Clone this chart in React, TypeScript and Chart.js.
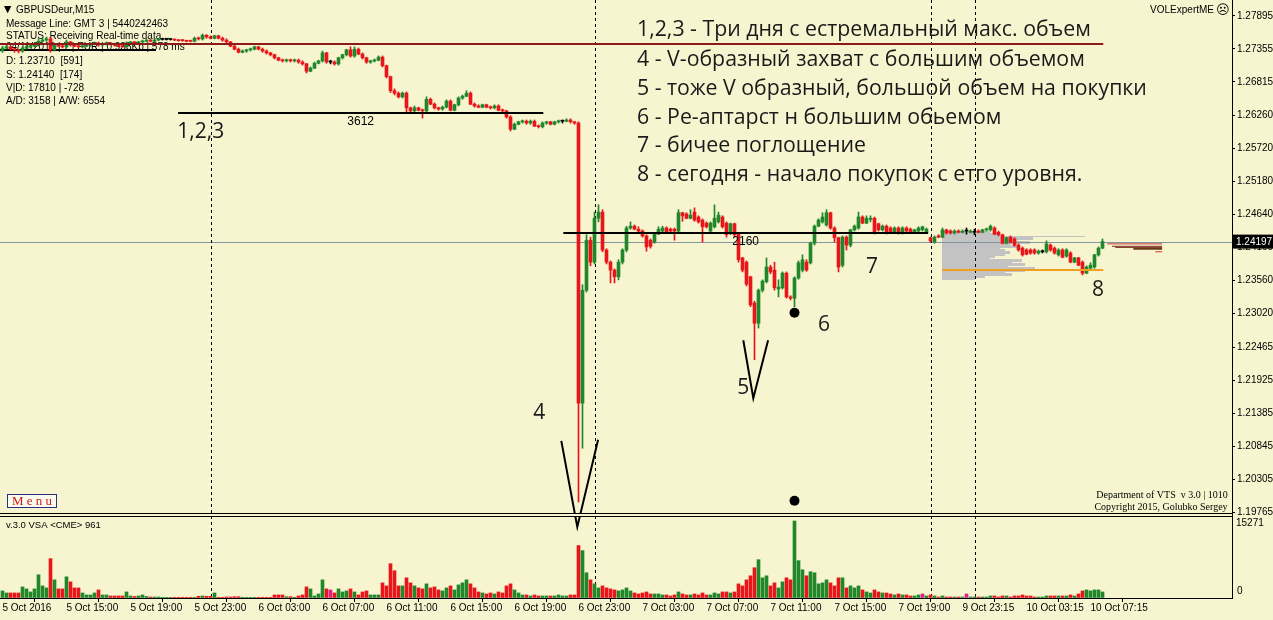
import React, { useEffect, useRef } from 'react';
import { Chart, registerables } from 'chart.js';

Chart.register(...registerables);

// ---------- axis data ----------
const timeLabels = ['5 Oct 2016', '5 Oct 15:00', '5 Oct 19:00', '5 Oct 23:00', '6 Oct 03:00', '6 Oct 07:00', '6 Oct 11:00', '6 Oct 15:00', '6 Oct 19:00', '6 Oct 23:00', '7 Oct 03:00', '7 Oct 07:00', '7 Oct 11:00', '7 Oct 15:00', '7 Oct 19:00', '9 Oct 23:15', '10 Oct 03:15', '10 Oct 07:15'];
const barsPerTimeLabel = 16;
const priceTicks = [1.27895, 1.27355, 1.26815, 1.2626, 1.2572, 1.2518, 1.2464, 1.241, 1.2356, 1.2302, 1.22465, 1.21925, 1.21385, 1.20845, 1.20305, 1.19765];
const priceMin = 1.19716;
const priceMax = 1.28157;
const barMin = -0.625;
const barMax = 307.375;
const volumeMax = 16461;
const volumeTicks = [15271, 0];
const currentPrice = 1.24197;

// ---------- candles [open, high, low, close] ----------
const candlesOct5 = [
  [1.2732, 1.2740, 1.2730, 1.2737], [1.2737, 1.2742, 1.2735, 1.2739], [1.2739, 1.2740, 1.2734, 1.2735], [1.2735, 1.2737, 1.2730, 1.2734],
  [1.2734, 1.2735, 1.2729, 1.2732], [1.2732, 1.2739, 1.2730, 1.2737], [1.2737, 1.2742, 1.2735, 1.2739], [1.2739, 1.2744, 1.2737, 1.2740],
  [1.2740, 1.2745, 1.2739, 1.2742], [1.2742, 1.2752, 1.2740, 1.2748], [1.2748, 1.2753, 1.2747, 1.2750], [1.2750, 1.2755, 1.2748, 1.2752],
  [1.2752, 1.2755, 1.2730, 1.2734], [1.2734, 1.2744, 1.2732, 1.2742], [1.2742, 1.2745, 1.2739, 1.2740], [1.2740, 1.2742, 1.2737, 1.2739],
  [1.2739, 1.2750, 1.2737, 1.2747], [1.2747, 1.2748, 1.2740, 1.2742], [1.2742, 1.2744, 1.2739, 1.2740], [1.2740, 1.2742, 1.2737, 1.2739],
  [1.2739, 1.2742, 1.2737, 1.2740], [1.2740, 1.2744, 1.2739, 1.2742], [1.2742, 1.2745, 1.2740, 1.2744], [1.2744, 1.2747, 1.2742, 1.2745],
  [1.2745, 1.2747, 1.2740, 1.2742], [1.2742, 1.2745, 1.2740, 1.2744], [1.2744, 1.2747, 1.2742, 1.2745], [1.2745, 1.2746, 1.2742, 1.2744],
  [1.2744, 1.2745, 1.2740, 1.2742], [1.2742, 1.2744, 1.2739, 1.2740], [1.2740, 1.2742, 1.2738, 1.2739], [1.2739, 1.2747, 1.2738, 1.2745],
  [1.2745, 1.2748, 1.2744, 1.2747], [1.2747, 1.2748, 1.2744, 1.2745], [1.2745, 1.2748, 1.2744, 1.2747], [1.2747, 1.2750, 1.2745, 1.2748],
  [1.2748, 1.2751, 1.2747, 1.2750], [1.2750, 1.2751, 1.2747, 1.2748], [1.2748, 1.2752, 1.2747, 1.2750], [1.2750, 1.2752, 1.2749, 1.2751],
  [1.2751, 1.2752, 1.2750, 1.2751], [1.2751, 1.2752, 1.2750, 1.2751], [1.2751, 1.2752, 1.2750, 1.2751], [1.2751, 1.2752, 1.2749, 1.2750],
  [1.2750, 1.2751, 1.2748, 1.2749], [1.2750, 1.2751, 1.2748, 1.2749], [1.2749, 1.2750, 1.2747, 1.2748], [1.2749, 1.2750, 1.2747, 1.2748],
  [1.2748, 1.2755, 1.2747, 1.2753], [1.2753, 1.2755, 1.2750, 1.2752], [1.2752, 1.2760, 1.2750, 1.2758], [1.2758, 1.2759, 1.2753, 1.2755],
];
const candlesOct6 = [
  [1.2755, 1.2757, 1.2752, 1.2753], [1.2753, 1.2758, 1.2752, 1.2757], [1.2757, 1.2758, 1.2752, 1.2753], [1.2753, 1.2755, 1.2748, 1.2750],
  [1.2750, 1.2752, 1.2745, 1.2747], [1.2747, 1.2748, 1.2739, 1.2740], [1.2740, 1.2742, 1.2734, 1.2735], [1.2735, 1.2737, 1.2729, 1.2730],
  [1.2730, 1.2734, 1.2729, 1.2732], [1.2732, 1.2735, 1.2730, 1.2734], [1.2734, 1.2737, 1.2732, 1.2735], [1.2735, 1.2740, 1.2734, 1.2739],
  [1.2739, 1.2740, 1.2734, 1.2735], [1.2735, 1.2737, 1.2730, 1.2732], [1.2732, 1.2734, 1.2727, 1.2729], [1.2729, 1.2730, 1.2724, 1.2726],
  [1.2726, 1.2727, 1.2719, 1.2721], [1.2721, 1.2722, 1.2716, 1.2717], [1.2717, 1.2719, 1.2714, 1.2716], [1.2716, 1.2719, 1.2714, 1.2717],
  [1.2717, 1.2719, 1.2714, 1.2716], [1.2716, 1.2719, 1.2714, 1.2717], [1.2717, 1.2719, 1.2712, 1.2714], [1.2714, 1.2716, 1.2709, 1.2711],
  [1.2711, 1.2712, 1.2696, 1.2699], [1.2699, 1.2706, 1.2698, 1.2704], [1.2704, 1.2714, 1.2703, 1.2712], [1.2712, 1.2717, 1.2711, 1.2716],
  [1.2716, 1.2732, 1.2714, 1.2729], [1.2729, 1.2730, 1.2712, 1.2714], [1.2714, 1.2717, 1.2711, 1.2714], [1.2714, 1.2716, 1.2709, 1.2711],
  [1.2711, 1.2722, 1.2709, 1.2721], [1.2721, 1.2727, 1.2719, 1.2726], [1.2726, 1.2735, 1.2724, 1.2734], [1.2734, 1.2739, 1.2722, 1.2724],
  [1.2724, 1.2739, 1.2722, 1.2735], [1.2735, 1.2737, 1.2726, 1.2727], [1.2727, 1.2729, 1.2719, 1.2721], [1.2721, 1.2722, 1.2712, 1.2714],
  [1.2714, 1.2717, 1.2712, 1.2716], [1.2716, 1.2719, 1.2714, 1.2717], [1.2717, 1.2724, 1.2716, 1.2722], [1.2722, 1.2724, 1.2706, 1.2708],
  [1.2708, 1.2709, 1.2688, 1.2690], [1.2690, 1.2691, 1.2664, 1.2667], [1.2667, 1.2670, 1.2660, 1.2663], [1.2663, 1.2665, 1.2655, 1.2657],
  [1.2657, 1.2665, 1.2655, 1.2663], [1.2663, 1.2665, 1.2632, 1.2639], [1.2639, 1.2640, 1.2632, 1.2634], [1.2634, 1.2642, 1.2632, 1.2639],
  [1.2639, 1.2640, 1.2634, 1.2635], [1.2635, 1.2637, 1.2622, 1.2634], [1.2634, 1.2657, 1.2632, 1.2653], [1.2653, 1.2655, 1.2644, 1.2645],
  [1.2645, 1.2647, 1.2637, 1.2639], [1.2639, 1.2640, 1.2635, 1.2637], [1.2637, 1.2642, 1.2635, 1.2640], [1.2640, 1.2652, 1.2639, 1.2650],
  [1.2650, 1.2652, 1.2634, 1.2635], [1.2635, 1.2645, 1.2634, 1.2644], [1.2644, 1.2657, 1.2642, 1.2655], [1.2655, 1.2660, 1.2653, 1.2658],
  [1.2658, 1.2667, 1.2657, 1.2663], [1.2663, 1.2665, 1.2644, 1.2645], [1.2645, 1.2647, 1.2640, 1.2642], [1.2642, 1.2644, 1.2639, 1.2640],
  [1.2640, 1.2645, 1.2639, 1.2644], [1.2644, 1.2645, 1.2639, 1.2640], [1.2640, 1.2642, 1.2637, 1.2639], [1.2639, 1.2644, 1.2637, 1.2642],
  [1.2642, 1.2644, 1.2634, 1.2635], [1.2635, 1.2637, 1.2632, 1.2634], [1.2634, 1.2635, 1.2622, 1.2624], [1.2624, 1.2626, 1.2601, 1.2604],
  [1.2604, 1.2614, 1.2603, 1.2612], [1.2612, 1.2617, 1.2611, 1.2616], [1.2616, 1.2619, 1.2614, 1.2617], [1.2617, 1.2619, 1.2612, 1.2614],
  [1.2614, 1.2619, 1.2612, 1.2617], [1.2617, 1.2619, 1.2608, 1.2609], [1.2609, 1.2611, 1.2606, 1.2608], [1.2608, 1.2616, 1.2606, 1.2614],
  [1.2614, 1.2617, 1.2612, 1.2616], [1.2616, 1.2617, 1.2611, 1.2612], [1.2612, 1.2617, 1.2611, 1.2616], [1.2616, 1.2619, 1.2614, 1.2617],
  [1.2617, 1.2619, 1.2614, 1.2617], [1.2617, 1.2621, 1.2616, 1.2619], [1.2619, 1.2621, 1.2614, 1.2616], [1.2616, 1.2617, 1.2612, 1.2614],
  [1.2614, 1.2616, 1.1993, 1.2155], [1.2155, 1.2349, 1.2081, 1.2340], [1.2340, 1.2431, 1.2337, 1.2422], [1.2422, 1.2427, 1.2380, 1.2386],
];
const candlesOct7 = [
  [1.2386, 1.2468, 1.2383, 1.2458], [1.2458, 1.2480, 1.2452, 1.2468], [1.2468, 1.2472, 1.2403, 1.2406], [1.2406, 1.2408, 1.2383, 1.2386],
  [1.2386, 1.2388, 1.2352, 1.2373], [1.2373, 1.2375, 1.2352, 1.2362], [1.2362, 1.2390, 1.2357, 1.2386], [1.2386, 1.2408, 1.2383, 1.2406],
  [1.2406, 1.2445, 1.2403, 1.2442], [1.2442, 1.2452, 1.2440, 1.2445], [1.2445, 1.2447, 1.2439, 1.2440], [1.2440, 1.2444, 1.2435, 1.2437],
  [1.2437, 1.2439, 1.2427, 1.2429], [1.2429, 1.2431, 1.2404, 1.2411], [1.2422, 1.2424, 1.2409, 1.2412], [1.2419, 1.2434, 1.2417, 1.2432],
  [1.2432, 1.2444, 1.2431, 1.2440], [1.2437, 1.2445, 1.2435, 1.2442], [1.2442, 1.2444, 1.2434, 1.2435], [1.2440, 1.2442, 1.2435, 1.2437],
  [1.2440, 1.2442, 1.2422, 1.2437], [1.2437, 1.2472, 1.2435, 1.2467], [1.2467, 1.2468, 1.2453, 1.2462], [1.2465, 1.2467, 1.2457, 1.2458],
  [1.2458, 1.2472, 1.2457, 1.2463], [1.2468, 1.2475, 1.2453, 1.2455], [1.2460, 1.2462, 1.2450, 1.2452], [1.2455, 1.2457, 1.2419, 1.2444],
  [1.2450, 1.2452, 1.2442, 1.2444], [1.2437, 1.2452, 1.2435, 1.2450], [1.2444, 1.2480, 1.2442, 1.2458], [1.2452, 1.2468, 1.2450, 1.2463],
  [1.2460, 1.2462, 1.2442, 1.2444], [1.2450, 1.2452, 1.2427, 1.2431], [1.2434, 1.2450, 1.2431, 1.2449], [1.2449, 1.2450, 1.2427, 1.2431],
  [1.2434, 1.2435, 1.2386, 1.2390], [1.2393, 1.2394, 1.2370, 1.2373], [1.2386, 1.2388, 1.2347, 1.2350], [1.2362, 1.2363, 1.2313, 1.2316],
  [1.2319, 1.2322, 1.2226, 1.2286], [1.2286, 1.2342, 1.2278, 1.2340], [1.2340, 1.2357, 1.2337, 1.2355], [1.2354, 1.2393, 1.2352, 1.2378],
  [1.2378, 1.2381, 1.2367, 1.2370], [1.2373, 1.2386, 1.2340, 1.2344], [1.2342, 1.2357, 1.2329, 1.2345], [1.2344, 1.2370, 1.2342, 1.2368],
  [1.2368, 1.2370, 1.2327, 1.2329], [1.2329, 1.2331, 1.2324, 1.2327], [1.2327, 1.2362, 1.2313, 1.2360], [1.2360, 1.2388, 1.2358, 1.2385],
  [1.2373, 1.2398, 1.2370, 1.2390], [1.2386, 1.2390, 1.2371, 1.2373], [1.2385, 1.2419, 1.2383, 1.2417], [1.2417, 1.2447, 1.2414, 1.2445],
  [1.2445, 1.2457, 1.2444, 1.2455], [1.2452, 1.2467, 1.2450, 1.2460], [1.2447, 1.2472, 1.2445, 1.2467], [1.2467, 1.2468, 1.2440, 1.2442],
  [1.2442, 1.2444, 1.2419, 1.2426], [1.2426, 1.2427, 1.2370, 1.2378], [1.2381, 1.2429, 1.2378, 1.2427], [1.2427, 1.2429, 1.2406, 1.2414],
  [1.2414, 1.2440, 1.2411, 1.2439], [1.2439, 1.2447, 1.2437, 1.2445], [1.2442, 1.2468, 1.2440, 1.2460], [1.2460, 1.2462, 1.2449, 1.2450],
  [1.2450, 1.2462, 1.2449, 1.2458], [1.2456, 1.2462, 1.2452, 1.2458], [1.2458, 1.2460, 1.2432, 1.2434], [1.2449, 1.2450, 1.2437, 1.2439],
  [1.2439, 1.2447, 1.2437, 1.2445], [1.2445, 1.2447, 1.2432, 1.2435], [1.2442, 1.2444, 1.2434, 1.2435], [1.2435, 1.2444, 1.2434, 1.2442],
  [1.2442, 1.2444, 1.2432, 1.2434], [1.2434, 1.2444, 1.2432, 1.2442], [1.2442, 1.2444, 1.2435, 1.2437], [1.2440, 1.2442, 1.2434, 1.2435],
  [1.2435, 1.2440, 1.2434, 1.2439], [1.2437, 1.2444, 1.2435, 1.2442], [1.2439, 1.2445, 1.2437, 1.2444], [1.2435, 1.2442, 1.2434, 1.2440],
];
const candlesOct9 = [
  [1.2426, 1.2427, 1.2419, 1.2421], [1.2419, 1.2429, 1.2417, 1.2427], [1.2429, 1.2431, 1.2426, 1.2427], [1.2427, 1.2442, 1.2426, 1.2439],
  [1.2439, 1.2440, 1.2432, 1.2434], [1.2437, 1.2439, 1.2432, 1.2434], [1.2434, 1.2439, 1.2432, 1.2437], [1.2437, 1.2439, 1.2434, 1.2435],
  [1.2435, 1.2439, 1.2434, 1.2437], [1.2437, 1.2442, 1.2432, 1.2437], [1.2435, 1.2439, 1.2434, 1.2437],
];
const candlesOct10 = [
  [1.2435, 1.2440, 1.2431, 1.2435], [1.2437, 1.2439, 1.2434, 1.2435], [1.2435, 1.2440, 1.2434, 1.2439], [1.2439, 1.2442, 1.2437, 1.2440],
  [1.2439, 1.2447, 1.2437, 1.2445], [1.2442, 1.2444, 1.2431, 1.2432], [1.2435, 1.2437, 1.2429, 1.2431], [1.2431, 1.2432, 1.2416, 1.2417],
  [1.2417, 1.2427, 1.2416, 1.2426], [1.2427, 1.2429, 1.2417, 1.2419], [1.2424, 1.2426, 1.2412, 1.2414], [1.2414, 1.2416, 1.2404, 1.2406],
  [1.2409, 1.2411, 1.2396, 1.2398], [1.2406, 1.2408, 1.2398, 1.2399], [1.2406, 1.2408, 1.2399, 1.2401], [1.2406, 1.2408, 1.2399, 1.2401],
  [1.2401, 1.2406, 1.2399, 1.2404], [1.2403, 1.2406, 1.2401, 1.2403], [1.2403, 1.2421, 1.2401, 1.2416], [1.2414, 1.2416, 1.2404, 1.2406],
  [1.2409, 1.2411, 1.2399, 1.2401], [1.2398, 1.2408, 1.2396, 1.2406], [1.2406, 1.2408, 1.2393, 1.2394], [1.2396, 1.2408, 1.2394, 1.2406],
  [1.2401, 1.2403, 1.2385, 1.2386], [1.2386, 1.2394, 1.2385, 1.2393], [1.2393, 1.2394, 1.2380, 1.2381], [1.2386, 1.2388, 1.2365, 1.2368],
  [1.2368, 1.2380, 1.2367, 1.2378], [1.2376, 1.2385, 1.2375, 1.2381], [1.2378, 1.2399, 1.2376, 1.2398], [1.2398, 1.2411, 1.2396, 1.2409],
  [1.2409, 1.2424, 1.2408, 1.24197],
];

// ---------- tick volume per bar ----------
const volumeOct5 = [1400, 1000, 1000, 1000, 1000, 2200, 1800, 1200, 1800, 4600, 2400, 2000, 7800, 3600, 1800, 1800, 4200, 3200, 2000, 2000, 1000, 600, 600, 1000, 1600, 600, 600, 400, 400, 400, 400, 1200, 400, 300, 400, 600, 300, 200, 200, 200, 60, 60, 60, 140, 140, 140, 140, 140, 140, 340, 400, 340];
const volumeOct6 = [340, 1000, 140, 140, 200, 200, 260, 260, 140, 140, 140, 140, 140, 140, 140, 140, 600, 600, 600, 260, 260, 140, 400, 600, 2200, 1800, 400, 800, 3600, 1800, 1600, 1000, 1800, 1200, 1400, 1800, 1200, 600, 1200, 1400, 600, 600, 600, 3000, 2400, 6800, 5400, 2400,
  2400, 4000, 3000, 2400, 2000, 1800, 2800, 2000, 2200, 1600, 1400, 2000, 2400, 1600, 2600, 3000, 3600, 2800, 2000, 1200, 1000, 800, 1000, 800, 1200, 1000, 2400, 2800, 1600, 1000, 600, 600, 400, 600, 400, 400, 400, 400, 400, 600, 400, 400, 600, 600, 10400, 9400, 5000, 3600];
const volumeOct7 = [2800, 2000, 2400, 2000, 1800, 1600, 1400, 1600, 2000, 1400, 1000, 800, 1000, 1200, 800, 800, 800, 600, 600, 400, 600, 1200, 800, 600, 600, 800, 600, 1000, 600, 600, 1000, 800, 1200, 1200, 1000, 1200, 2800, 2400, 3600, 4400,
  6000, 7600, 4000, 4400, 2400, 3000, 2000, 3200, 4000, 3600, 15271, 7400, 5600, 4400, 5200, 5000, 2800, 3000, 3600, 3000, 2400, 4000, 4000, 2000, 2400, 2000, 2400, 1600, 1200, 1000, 1600, 1200, 1000, 1000, 800, 600, 800, 600, 600, 400, 400, 600, 800, 400];
const volumeOct9 = [600, 400, 200, 400, 200, 200, 200, 200, 200, 800, 200];
const volumeOct10 = [200, 200, 200, 200, 400, 400, 200, 400, 400, 200, 400, 400, 600, 400, 400, 200, 200, 200, 400, 400, 400, 400, 400, 400, 600, 400, 800, 1400, 1600, 1400, 1600, 1600, 1200];
const climaxVolumeBars = [82, 230, 241];
const daySeparatorBars = [52, 148, 232, 243];

// ---------- drawn levels & annotations (bar index, price) ----------
const weeklyHighLine = { price: 1.27436, from: -0.7, to: 275.2 };
const volumeLevels = [
  { label: '3612', price: 1.26305, from: 43.9, to: 135.2 },
  { label: '2160', price: 1.24338, from: 140.2, to: 231.4 },
];
const buyLevel = { price: 1.2373, from: 234.9, to: 275.2 };
const vPatterns = [
  [[139.7, 1.2093], [143.7, 1.1952], [148.9, 1.2095]],
  [[185.2, 1.2258], [187.7, 1.2163], [191.4, 1.2258]],
];
const markerDots = [[198, 1.2303], [198, 1.1995]];
const patternLabels = [
  { text: '1,2,3', bar: 43.7, price: 1.2599 },
  { text: '4', bar: 132.7, price: 1.2139 },
  { text: '5', bar: 183.7, price: 1.2180 },
  { text: '6', bar: 203.9, price: 1.2283 },
  { text: '7', bar: 215.9, price: 1.2378 },
  { text: '8', bar: 272.4, price: 1.2340 },
];
const profilePrices = [1.2435, 1.2432, 1.2429, 1.2426, 1.2422, 1.2419, 1.2416, 1.2412, 1.2409, 1.2406, 1.2403, 1.2399, 1.2396, 1.2393, 1.2390, 1.2386, 1.2383, 1.2380, 1.2376, 1.2373, 1.2370, 1.2367, 1.2363, 1.2360];
const profileLengths = [12, 14.5, 35.8, 22.8, 17.5, 22, 17, 19.5, 14.5, 15.8, 17, 15.8, 13.3, 12, 20, 17.5, 20.8, 16.5, 23.3, 20.8, 15.8, 17.5, 10.8, 8.3];
const profileStartBar = 234.9;
const sideLevels = [
  { price: 1.2416, from: 276.2, to: 289.9, color: '#c23a32', width: 1 },
  { price: 1.2412, from: 277.4, to: 289.9, color: '#8b1e1e', width: 1 },
  { price: 1.2410, from: 278.2, to: 289.9, color: '#7a4a2a', width: 1 },
  { price: 1.2408, from: 282.7, to: 289.9, color: '#6b3a1a', width: 2 },
  { price: 1.2403, from: 288.2, to: 289.9, color: '#e03030', width: 1 },
];
const notes = [
  '1,2,3 - Три дня с естремальный макс. объем',
  '4 - V-образный захват с большим объемом',
  '5 - тоже V образный, большой объем на покупки',
  '6 - Ре-аптарст н большим обьемом',
  '7 - бичее поглощение',
  '8 - сегодня - начало покупок с етго уровня.',
];
const symbolTitle = 'GBPUSDeur,M15';
const headerLines = [
  'Message Line: GMT 3 | 5440242463',
  'STATUS: Receiving Real-time data...',
  '04/11/2016 | 7 | EUR | 0.933Kb | 578 ms',
  'D: 1.23710  [591]',
  'S: 1.24140  [174]',
  'V|D: 17810 | -728',
  'A/D: 3158 | A/W: 6554',
];
const volumeTitle = 'v.3.0 VSA <CME> 961';
const expertName = 'VOLExpertME';
const copyrightLines = ['Department of VTS  v 3.0 | 1010', 'Copyright 2015, Golubko Sergey'];

// ---------- styles ----------
const BG = '#f6f5d0';
const UP = '#21872a';
const DOWN = '#e8161b';
const DOJI = '#000000';
const CLIMAX = '#e0208c';
const SANS = '"Liberation Sans", Arial, sans-serif';
const SERIF = '"Liberation Serif", "Times New Roman", serif';
const NOTE_FONT = '"Open Sans", "DejaVu Sans", sans-serif';

const candles: number[][] = [...candlesOct5, ...candlesOct6, ...candlesOct7, ...candlesOct9, ...candlesOct10];
const volumes: number[] = [...volumeOct5, ...volumeOct6, ...volumeOct7, ...volumeOct9, ...volumeOct10];

const candleColor = (c: number[]) => (c[3] > c[0] ? UP : c[3] < c[0] ? DOWN : DOJI);

const overlayPlugin = {
  id: 'mtOverlay',
  beforeDraw(chart: any) {
    const { ctx, width, height } = chart;
    ctx.save();
    ctx.fillStyle = BG;
    ctx.fillRect(0, 0, width, height);
    ctx.restore();
  },
  beforeDatasetsDraw(chart: any) {
    const { ctx, chartArea } = chart;
    const xs = chart.scales.x;
    const ys = chart.scales.y;
    ctx.save();
    // header texts
    ctx.fillStyle = '#000';
    ctx.textBaseline = 'middle';
    ctx.font = `9.5px "DejaVu Sans", sans-serif`;
    ctx.fillText('▼', 4, 10);
    ctx.font = `10px ${SANS}`;
    ctx.fillText(symbolTitle, 16, 10);
    const headerY = [24, 36, 47, 61, 75, 88, 101];
    headerLines.forEach((t, k) => ctx.fillText(t, 6, headerY[k]));
    ctx.fillRect(0, 49, 156, 2);

    // volume profile
    ctx.fillStyle = '#c3c3c3';
    const x0 = xs.getPixelForValue(profileStartBar);
    profilePrices.forEach((p, k) => {
      const py = Math.round(ys.getPixelForValue(p));
      const x1 = Math.round(xs.getPixelForValue(profileStartBar + profileLengths[k]));
      if (k === 2) {
        ctx.fillRect(Math.round(x0), py, x1 - Math.round(x0), 1);
      } else {
        ctx.fillRect(Math.round(x0), py - 1, x1 - Math.round(x0), 3);
      }
    });

    // current price line
    const cy = Math.round(ys.getPixelForValue(currentPrice)) + 0.5;
    ctx.strokeStyle = '#8595a0';
    ctx.lineWidth = 1;
    ctx.beginPath();
    ctx.moveTo(chartArea.left, cy);
    ctx.lineTo(chartArea.right, cy);
    ctx.stroke();

    // day separators
    ctx.strokeStyle = '#000';
    ctx.setLineDash([3, 3]);
    daySeparatorBars.forEach((b) => {
      const px = Math.round(xs.getPixelForValue(b)) + 0.5;
      ctx.beginPath();
      ctx.moveTo(px, chartArea.top);
      ctx.lineTo(px, chartArea.bottom);
      ctx.stroke();
    });
    ctx.restore();
  },
  afterDatasetsDraw(chart: any) {
    const { ctx, chartArea } = chart;
    const xs = chart.scales.x;
    const ys = chart.scales.y;
    const yv = chart.scales.yv;
    ctx.save();

    // panel separation (double line)
    const pb = ys.bottom;
    ctx.fillStyle = BG;
    ctx.fillRect(chartArea.left, pb - 1, chartArea.right - chartArea.left, 2);
    ctx.strokeStyle = '#000';
    ctx.lineWidth = 1;
    ctx.beginPath();
    ctx.moveTo(chartArea.left, pb - 1.5);
    ctx.lineTo(chartArea.right, pb - 1.5);
    ctx.moveTo(chartArea.left, pb + 1.5);
    ctx.lineTo(chartArea.right, pb + 1.5);
    ctx.stroke();

    // level labels
    ctx.fillStyle = '#000';
    ctx.font = `12px ${SANS}`;
    ctx.textAlign = 'center';
    ctx.textBaseline = 'middle';
    volumeLevels.forEach((l) => {
      const mx = xs.getPixelForValue((l.from + l.to) / 2);
      ctx.fillText(l.label, mx, ys.getPixelForValue(l.price) + 9);
    });

    // pattern labels
    ctx.textAlign = 'left';
    ctx.fillStyle = '#1a1a1a';
    ctx.font = `21px ${NOTE_FONT}`;
    patternLabels.forEach((l) => ctx.fillText(l.text, xs.getPixelForValue(l.bar), ys.getPixelForValue(l.price)));

    // notes block
    ctx.font = `21.3px ${NOTE_FONT}`;
    const noteY = [30, 60, 89, 118, 146, 175];
    notes.forEach((t, k) => ctx.fillText(t, 637, noteY[k]));

    // top-right expert name
    ctx.fillStyle = '#000';
    ctx.font = `10px ${SANS}`;
    ctx.textAlign = 'right';
    ctx.fillText(expertName, 1214, 10);
    ctx.font = `13px "DejaVu Sans", sans-serif`;
    ctx.textAlign = 'left';
    ctx.fillText('☹', 1216, 11);

    // menu button
    ctx.fillStyle = '#fbfbf0';
    ctx.fillRect(7.5, 494.5, 49, 13);
    ctx.strokeStyle = '#2b2f7a';
    ctx.lineWidth = 1;
    ctx.strokeRect(7.5, 494.5, 49, 13);
    ctx.fillStyle = '#d01818';
    ctx.font = `13px ${SERIF}`;
    ctx.textAlign = 'center';
    ctx.fillText('M e n u', 32, 501.5);

    // copyright
    ctx.fillStyle = '#000';
    ctx.font = `10px ${SERIF}`;
    ctx.fillText(copyrightLines[0], 1162, 495);
    ctx.fillText(copyrightLines[1], 1161, 507);

    // volume panel title
    ctx.textAlign = 'left';
    ctx.font = `9.5px ${SANS}`;
    ctx.fillText(volumeTitle, 6, 525);

    // volume axis labels
    ctx.font = `10px ${SANS}`;
    ctx.fillText(String(volumeTicks[0]), 1236, yv.getPixelForValue(volumeTicks[0]) + 2);
    ctx.fillText(String(volumeTicks[1]), 1237, yv.getPixelForValue(volumeTicks[1]) - 7);

    // current price box
    const py = ys.getPixelForValue(currentPrice);
    ctx.fillStyle = '#000';
    ctx.fillRect(1233, py - 7, 40, 14);
    ctx.fillStyle = '#fff';
    ctx.fillText(currentPrice.toFixed(5), 1236, py + 0.5);
    ctx.restore();
  },
};

const lineDs = (pts: number[][], color: string, width: number, extra: any = {}) => ({
  type: 'line',
  data: pts.map(([x, y]) => ({ x, y })),
  borderColor: color,
  backgroundColor: color,
  borderWidth: width,
  pointRadius: 0,
  tension: 0,
  xAxisID: 'x',
  yAxisID: 'y',
  order: 0,
  ...extra,
});

export default function App() {
  const ref = useRef<HTMLCanvasElement>(null);

  useEffect(() => {
    const canvas = ref.current;
    if (!canvas) return;
    const colors = candles.map(candleColor);
    const volColors = candles.map((c, i) => (climaxVolumeBars.includes(i) ? CLIMAX : c[3] >= c[0] ? UP : DOWN));

    const datasets: any[] = [
      {
        type: 'bar',
        data: candles.map((c, i) => ({ x: i, y: [c[2], c[1]] })),
        backgroundColor: colors,
        barThickness: 1,
        grouped: false,
        xAxisID: 'x',
        yAxisID: 'y',
        order: 3,
      },
      {
        type: 'bar',
        data: candles.map((c, i) => ({ x: i, y: [c[0], c[3]] })),
        backgroundColor: colors,
        barThickness: 3,
        minBarLength: 1,
        grouped: false,
        xAxisID: 'x',
        yAxisID: 'y',
        order: 2,
      },
      {
        type: 'bar',
        data: volumes.map((v, i) => ({ x: i, y: v })),
        backgroundColor: volColors,
        barThickness: 3,
        grouped: false,
        xAxisID: 'x',
        yAxisID: 'yv',
        order: 2,
      },
      lineDs([[weeklyHighLine.from, weeklyHighLine.price], [weeklyHighLine.to, weeklyHighLine.price]], '#8b1a1a', 2),
      ...volumeLevels.map((l) => lineDs([[l.from, l.price], [l.to, l.price]], '#000', 2)),
      lineDs([[buyLevel.from, buyLevel.price], [buyLevel.to, buyLevel.price]], '#f0a020', 2),
      ...sideLevels.map((l) => lineDs([[l.from, l.price], [l.to, l.price]], l.color, l.width)),
      ...vPatterns.map((v) => lineDs(v, '#000', 2, { clip: false })),
      lineDs(markerDots, '#000', 0, { showLine: false, pointRadius: 5, pointBackgroundColor: '#000', pointBorderWidth: 0, clip: false }),
    ];

    const chart = new Chart(canvas, {
      type: 'bar',
      data: { datasets },
      options: {
        animation: false,
        responsive: false,
        events: [],
        layout: { padding: 0, autoPadding: false },
        plugins: { legend: { display: false }, tooltip: { enabled: false } },
        scales: {
          x: {
            type: 'linear',
            position: 'bottom',
            min: barMin,
            max: barMax,
            offset: false,
            bounds: 'data',
            afterBuildTicks: (s: any) => {
              s.ticks = timeLabels.map((_, k) => ({ value: k * barsPerTimeLabel }));
            },
            afterFit: (s: any) => {
              s.height = 22;
              s.paddingLeft = 0;
              s.paddingRight = 0;
            },
            ticks: {
              autoSkip: false,
              maxRotation: 0,
              minRotation: 0,
              align: 'start',
              padding: 0,
              color: '#000',
              font: { family: SANS, size: 10 },
              callback: (v: any) => timeLabels[Math.round(Number(v) / barsPerTimeLabel)] ?? '',
            },
            grid: { drawOnChartArea: false, drawTicks: true, tickLength: 4, color: '#000' },
            border: { display: true, color: '#000' },
          },
          y: {
            type: 'linear',
            position: 'right',
            stack: 'panels',
            stackWeight: 515,
            min: priceMin,
            max: priceMax,
            bounds: 'data',
            afterBuildTicks: (s: any) => {
              s.ticks = priceTicks.map((v) => ({ value: v }));
            },
            afterFit: (s: any) => {
              s.width = 41;
              s.paddingTop = 0;
              s.paddingBottom = 0;
            },
            ticks: {
              autoSkip: false,
              padding: 2,
              color: '#000',
              font: { family: SANS, size: 10 },
              callback: (v: any) => Number(v).toFixed(5),
            },
            grid: { drawOnChartArea: false, drawTicks: true, tickLength: 3, color: '#000' },
            border: { display: true, color: '#000' },
          },
          yv: {
            type: 'linear',
            position: 'right',
            stack: 'panels',
            stackWeight: 83,
            min: 0,
            max: volumeMax,
            bounds: 'data',
            afterFit: (s: any) => {
              s.width = 41;
              s.paddingTop = 0;
              s.paddingBottom = 0;
            },
            ticks: { display: false },
            grid: { drawOnChartArea: false, drawTicks: false, color: '#000' },
            border: { display: true, color: '#000' },
          },
        },
      } as any,
      plugins: [overlayPlugin],
    } as any);

    return () => chart.destroy();
  }, []);

  return (
    <div style={{ position: 'absolute', left: 0, top: 0, width: 1273, height: 620, overflow: 'hidden' }}>
      <canvas ref={ref} width={1273} height={620} style={{ display: 'block', width: 1273, height: 620 }} />
    </div>
  );
}
